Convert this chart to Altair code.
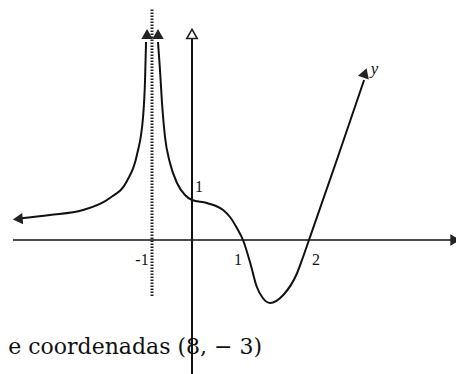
import altair as alt
import pandas as pd

# Curve (graph units)
left_x = [-4.35, -3.57, -2.74, -2.06, -1.63, -1.38, -1.225, -1.175, -1.15]
left_y = [0.43, 0.50, 0.60, 0.84, 1.18, 1.70, 2.46, 3.20, 3.96]

right_x = [-0.85, -0.80, -0.75, -0.675, -0.55, -0.375, -0.175, 0.0, 0.29, 0.61, 0.745, 0.88, 1.0,
           1.11, 1.21, 1.30, 1.41, 1.61, 1.82, 1.91, 2.0, 2.46, 2.90]
right_y = [3.96, 3.40, 2.74, 2.06, 1.54, 1.14, 0.90, 0.80, 0.74, 0.60, 0.46, 0.24, 0.0,
           -0.46, -0.94, -1.16, -1.26, -1.10, -0.66, -0.34, 0.0, 1.62, 3.20]

asymptote_x = -1
tick_x = [-1, 1, 2]
tick_labels = ["-1", "1", "2"]
ytick_y = [1]
ytick_labels = ["1"]
caption = "e coordenadas (8, \u2212 3)"
curve_label = "y"

# arrow heads: x, y, angle
arrow_x = [-4.38, -1.125, -0.85, 2.915, 4.39]
arrow_y = [0.42, 4.12, 4.12, 3.34, 0.0]
arrow_angle = [265, 0, 0, 19, 90]

xs = alt.Scale(domain=[-4.5, -1, 0, 1, 2, 4.5], range=[5, 144, 184, 235, 301, 454],
               nice=False, zero=False)
ys = alt.Scale(domain=[-2.68, 4.64], nice=False, zero=False)

rows = []
for i, (x, y) in enumerate(zip(left_x, left_y)):
    rows.append({"x": x, "y": y, "branch": "left", "i": i})
for i, (x, y) in enumerate(zip(right_x, right_y)):
    rows.append({"x": x, "y": y, "branch": "right", "i": i})
curve_df = pd.DataFrame(rows)

base_df = pd.DataFrame({"a": [0]})

x_axis = alt.Chart(base_df).mark_rule(color="#111", strokeWidth=1.6).encode(
    x=alt.datum(-4.5, scale=xs, axis=None), x2=alt.datum(4.45),
    y=alt.datum(0, scale=ys, axis=None))
y_axis = alt.Chart(base_df).mark_rule(color="#111", strokeWidth=2).encode(
    x=alt.datum(0, scale=xs, axis=None),
    y=alt.datum(-2.68, scale=ys, axis=None), y2=alt.datum(4.05))
asym = alt.Chart(base_df).mark_rule(color="#222", strokeWidth=3, strokeDash=[1.5, 1.5]).encode(
    x=alt.datum(asymptote_x, scale=xs, axis=None),
    y=alt.datum(-1.12, scale=ys, axis=None), y2=alt.datum(4.64))

curve = alt.Chart(curve_df).mark_line(color="#111", strokeWidth=2, interpolate="monotone").encode(
    x=alt.X("x:Q", scale=xs, axis=None),
    y=alt.Y("y:Q", scale=ys, axis=None),
    detail="branch:N", order="i:Q")

arrow_df = pd.DataFrame({"x": arrow_x, "y": arrow_y, "angle": arrow_angle})
arrows = alt.Chart(arrow_df).mark_point(shape="triangle-up", filled=True, color="#222",
                                        size=130, opacity=1).encode(
    x=alt.X("x:Q", scale=xs, axis=None),
    y=alt.Y("y:Q", scale=ys, axis=None),
    angle=alt.Angle("angle:Q", scale=None))

yarrow = alt.Chart(base_df).mark_point(shape="triangle-up", filled=True, fill="white",
                                       stroke="#222", strokeWidth=1.6, size=110, opacity=1).encode(
    x=alt.datum(0, scale=xs, axis=None), y=alt.datum(4.12, scale=ys, axis=None))

layers = [x_axis, y_axis, asym, curve, arrows, yarrow]

offsets = [-10, -5, 7]
for tx, lab, off in zip(tick_x, tick_labels, offsets):
    layers.append(alt.Chart(base_df).mark_text(text=lab, font="Liberation Serif", fontSize=16,
                                               color="#111", dx=off, dy=20).encode(
        x=alt.datum(tx, scale=xs, axis=None), y=alt.datum(0, scale=ys, axis=None)))
for ty, lab in zip(ytick_y, ytick_labels):
    layers.append(alt.Chart(base_df).mark_text(text=lab, font="Liberation Serif", fontSize=16,
                                               color="#111", dx=7, dy=-3).encode(
        x=alt.datum(0, scale=xs, axis=None), y=alt.datum(ty, scale=ys, axis=None)))

layers.append(alt.Chart(base_df).mark_text(text=curve_label, font="Liberation Serif", fontSize=17,
                                           fontStyle="italic", color="#111").encode(
    x=alt.datum(3.07, scale=xs, axis=None), y=alt.datum(3.42, scale=ys, axis=None)))

layers.append(alt.Chart(base_df).mark_text(text=caption, font="DejaVu Serif", fontSize=22,
                                           align="left", baseline="alphabetic", color="#111").encode(
    x=alt.datum(-4.62, scale=xs, axis=None), y=alt.datum(-2.28, scale=ys, axis=None)))

chart = alt.layer(*layers).properties(
    width=448, height=366, padding=0, autosize=alt.AutoSizeParams(type="none"),
    background="white"
).configure_view(stroke=None)

chart.save("out.html", embed_options={"renderer": "svg", "actions": False})
